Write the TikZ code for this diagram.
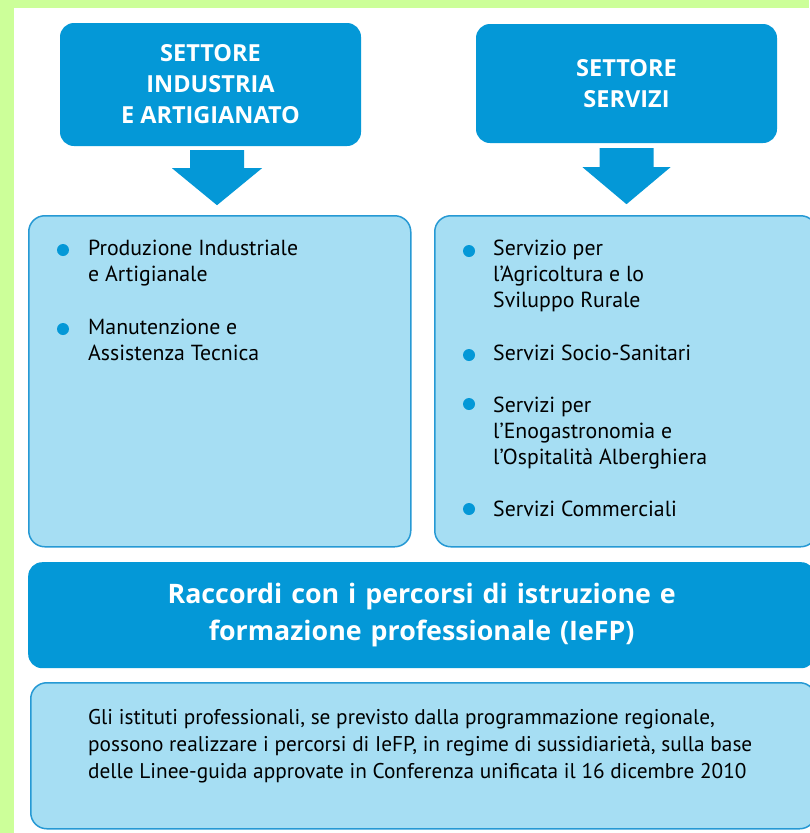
\documentclass[tikz,border=0pt]{standalone}
\usepackage{fontspec}
\setmainfont{PT Sans}
\newfontfamily\titlefont{Open Sans}
\usetikzlibrary{calc}

\definecolor{verdino}{RGB}{204,255,153}
\definecolor{blu}{RGB}{4,152,215}
\definecolor{celeste}{RGB}{166,222,243}
\definecolor{linea}{RGB}{38,153,212}

\tikzset{
	titolo/.style = {fill=blu, rounded corners=14, text=white, align=center, inner sep=0,
		font=\titlefont\bfseries\fontsize{23.5}{31}\selectfont},
	riquadro/.style = {fill=celeste, draw=linea, line width=1.5, rounded corners=16, inner sep=0},
	voce/.style = {anchor=north west, align=left, inner sep=0,
		font=\fontsize{21.8}{26}\selectfont},
	pallino/.style = {circle, fill=blu, inner sep=0, minimum size=12},
	freccia/.style = {fill=blu}
}

\begin{document}
\begin{tikzpicture}[x=1pt, y=-1pt]
	\useasboundingbox (0,0) rectangle (809,833);
	\fill[verdino] (0,0) rectangle (809,833);
	\fill[white] (14,8) rectangle (809,833);

	% settori
	\node[titolo, minimum width=301, minimum height=123] (indust) at (210.5,84.5)
		{SETTORE\\INDUSTRIA\\E ARTIGIANATO};
	\node[titolo, minimum width=301, minimum height=119] (servizi) at (626.5,83.5)
		{SETTORE\\SERVIZI};

	% frecce
	\coordinate (fi) at ($(indust.south)+(6.5,4)$);
	\coordinate (fs) at ($(servizi.south)+(0,5)$);
	\fill[freccia] (fi) ++(-27,0) -- ++(54,0) -- ++(0,18) -- ++(18,0) -- ++(-45,37)
		-- ++(-45,-37) -- ++(18,0) -- cycle;
	\fill[freccia] (fs) ++(-27,0) -- ++(54,0) -- ++(0,19) -- ++(17,0) -- ++(-44,37)
		-- ++(-44,-37) -- ++(17,0) -- cycle;

	% elenchi
	\node[riquadro, minimum width=382, minimum height=331, anchor=north west] (listaind) at (28,215) {};
	\node[riquadro, minimum width=382, minimum height=331, anchor=north west] (listaserv) at (434,215) {};

	\node[pallino] (p1) at (63,250) {};
	\node[voce] (v1) at (88,240) {Produzione Industriale\\e Artigianale};
	\node[pallino] (p2) at (63,329) {};
	\node[voce] (v2) at (88,319) {Manutenzione e\\Assistenza Tecnica};

	\node[pallino] (p3) at (469,251) {};
	\node[voce] (v3) at (493,240) {Servizio per\\l’Agricoltura e lo\\Sviluppo Rurale};
	\node[pallino] (p4) at (469,355) {};
	\node[voce] (v4) at (493,345) {Servizi Socio-Sanitari};
	\node[pallino] (p5) at (469,404) {};
	\node[voce] (v5) at (493,397) {Servizi per\\l’Enogastronomia e\\l’Ospitalità Alberghiera};
	\node[pallino] (p6) at (469,509) {};
	\node[voce] (v6) at (493,501) {Servizi Commerciali};

	% raccordi IeFP
	\node[titolo, minimum width=787, minimum height=106, anchor=north west,
		font=\titlefont\bfseries\fontsize{26.8}{37}\selectfont, text width=787] (raccordi) at (28,562)
		{Raccordi con i percorsi di istruzione e\\formazione professionale (IeFP)};
	\node[riquadro, minimum width=785, minimum height=146, anchor=north west] (nota) at (30,682) {};
	\node[voce, font=\fontsize{21.3}{27}\selectfont] (testo) at (88,709)
		{Gli istituti professionali, se previsto dalla programmazione regionale,\\
		possono realizzare i percorsi di IeFP, in regime di sussidiarietà, sulla base\\
		delle Linee-guida approvate in Conferenza unificata il 16 dicembre 2010};
\end{tikzpicture}
\end{document}
